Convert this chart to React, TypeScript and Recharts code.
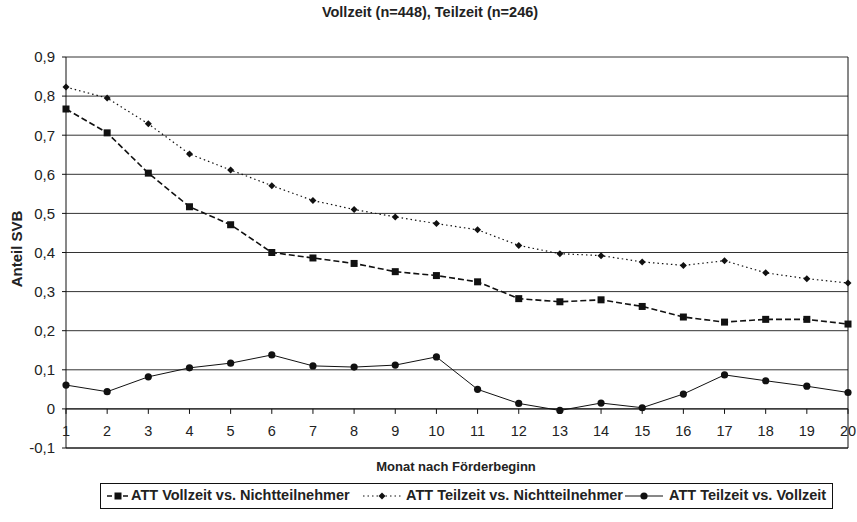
import React from 'react';
import { LineChart, Line, XAxis, YAxis, CartesianGrid, ReferenceLine } from 'recharts';

const months = [1, 2, 3, 4, 5, 6, 7, 8, 9, 10, 11, 12, 13, 14, 15, 16, 17, 18, 19, 20];
const vollzeitVsNicht = [0.767, 0.706, 0.603, 0.517, 0.471, 0.4, 0.386, 0.372, 0.351, 0.341, 0.325, 0.282, 0.274, 0.279, 0.262, 0.235, 0.222, 0.229, 0.229, 0.217];
const teilzeitVsNicht = [0.823, 0.795, 0.729, 0.652, 0.611, 0.571, 0.533, 0.51, 0.491, 0.474, 0.458, 0.418, 0.397, 0.392, 0.376, 0.367, 0.379, 0.348, 0.333, 0.322];
const teilzeitVsVollzeit = [0.061, 0.044, 0.082, 0.105, 0.117, 0.138, 0.11, 0.107, 0.112, 0.133, 0.05, 0.014, -0.004, 0.015, 0.003, 0.038, 0.087, 0.072, 0.058, 0.042];
const yTicks = [-0.1, 0, 0.1, 0.2, 0.3, 0.4, 0.5, 0.6, 0.7, 0.8, 0.9];

const seriesNames = ['ATT Vollzeit vs. Nichtteilnehmer', 'ATT Teilzeit vs. Nichtteilnehmer', 'ATT Teilzeit vs. Vollzeit'];

const data = months.map((m, i) => ({
  month: m,
  voll: vollzeitVsNicht[i],
  teilNicht: teilzeitVsNicht[i],
  teilVoll: teilzeitVsVollzeit[i],
}));

const FONT = '"Liberation Sans", Arial, sans-serif';
const WIDTH = 857;
const HEIGHT = 522;
const PLOT_TOP = 57;
const PLOT_BOTTOM = 448;
// pixels per 0.1 on the y scale, used to lift x labels up to the zero line
const STEP = (PLOT_BOTTOM - PLOT_TOP) / 10;

const SquareDot = (props: any) => {
  const { cx, cy } = props;
  if (cx == null || cy == null) return null;
  return <rect x={cx - 3.5} y={cy - 3.5} width={7} height={7} fill="#111" />;
};

const DiamondDot = (props: any) => {
  const { cx, cy } = props;
  if (cx == null || cy == null) return null;
  return <polygon points={`${cx},${cy - 3.5} ${cx + 3.5},${cy} ${cx},${cy + 3.5} ${cx - 3.5},${cy}`} fill="#111" />;
};

const CircleDot = (props: any) => {
  const { cx, cy } = props;
  if (cx == null || cy == null) return null;
  return <circle cx={cx} cy={cy} r={3.6} fill="#111" />;
};

const MonthTick = (props: any) => {
  const { x, payload } = props;
  const zeroY = PLOT_BOTTOM - STEP;
  return (
    <g>
      <line x1={x} x2={x} y1={zeroY} y2={zeroY + 5} stroke="#111" />
      <text x={x} y={zeroY + 27} textAnchor="middle" fontSize={14.5} fill="#222" fontFamily={FONT}>
        {payload.value}
      </text>
    </g>
  );
};

function LegendIcon({ dash, marker, w }: { dash?: string; marker: 'square' | 'diamond' | 'circle'; w: number }) {
  const c = w / 2;
  return (
    <svg width={w} height={10} style={{ display: 'block' }}>
      <line x1={0} x2={w} y1={5} y2={5} stroke="#111" strokeWidth={marker === 'square' ? 1.5 : 1} strokeDasharray={dash} />
      {marker === 'square' && <rect x={c - 3.5} y={1.5} width={7} height={7} fill="#111" />}
      {marker === 'diamond' && <polygon points={`${c},1.5 ${c + 3.5},5 ${c},8.5 ${c - 3.5},5`} fill="#111" />}
      {marker === 'circle' && <circle cx={c} cy={5} r={3.6} fill="#111" />}
    </svg>
  );
}

const legendItems = [
  { name: seriesNames[0], dash: '5 3', marker: 'square' as const, iconLeft: 6, iconW: 22, textLeft: 30 },
  { name: seriesNames[1], dash: '1.5 3', marker: 'diamond' as const, iconLeft: 262, iconW: 38, textLeft: 305 },
  { name: seriesNames[2], dash: undefined, marker: 'circle' as const, iconLeft: 524, iconW: 38, textLeft: 568 },
];

export default function App() {
  return (
    <div style={{ position: 'absolute', left: 0, top: 0, width: WIDTH, height: HEIGHT, background: '#fff', fontFamily: FONT }}>
      <div style={{ position: 'absolute', top: 4, left: 0, width: 860, textAlign: 'center', fontSize: 14.5, fontWeight: 'bold', color: '#222' }}>
        Vollzeit (n=448), Teilzeit (n=246)
      </div>
      <div
        style={{
          position: 'absolute',
          left: 16,
          top: 249,
          transform: 'translate(-50%, -50%) rotate(-90deg)',
          fontSize: 15,
          fontWeight: 'bold',
          color: '#222',
          whiteSpace: 'nowrap',
        }}
      >
        Anteil SVB
      </div>
      <div style={{ position: 'absolute', top: 459, left: 0, width: 912, textAlign: 'center', fontSize: 13, fontWeight: 'bold', color: '#222' }}>
        Monat nach Förderbeginn
      </div>

      <LineChart width={WIDTH} height={HEIGHT} data={data} margin={{ top: PLOT_TOP, right: 9, left: 16, bottom: 44 }}>
        <CartesianGrid vertical={false} stroke="#333" />
        <XAxis
          dataKey="month"
          type="number"
          domain={[1, 20]}
          ticks={months}
          interval={0}
          height={30}
          axisLine={{ stroke: '#111' }}
          tickLine={false}
          tick={<MonthTick />}
        />
        <YAxis
          domain={[-0.1, 0.9]}
          ticks={yTicks}
          width={50}
          axisLine={{ stroke: '#111' }}
          tickLine={{ stroke: '#111' }}
          tickSize={4}
          tickMargin={7}
          tick={{ fontSize: 15, fill: '#222', fontFamily: FONT }}
          tickFormatter={(v: number) => (Math.round(v * 10) / 10).toString().replace('.', ',')}
        />
        <ReferenceLine y={0} stroke="#111" />
        <ReferenceLine x={20} stroke="#111" />
        <Line
          dataKey="voll"
          name={seriesNames[0]}
          stroke="#111"
          strokeWidth={1.6}
          strokeDasharray="6 3"
          dot={<SquareDot />}
          activeDot={false}
          isAnimationActive={false}
        />
        <Line
          dataKey="teilNicht"
          name={seriesNames[1]}
          stroke="#111"
          strokeWidth={1.2}
          strokeDasharray="1.5 3"
          dot={<DiamondDot />}
          activeDot={false}
          isAnimationActive={false}
        />
        <Line
          dataKey="teilVoll"
          name={seriesNames[2]}
          stroke="#111"
          strokeWidth={1}
          dot={<CircleDot />}
          activeDot={false}
          isAnimationActive={false}
        />
      </LineChart>

      <div
        style={{
          position: 'absolute',
          left: 100,
          top: 483,
          width: 731,
          height: 24,
          border: '1px solid #111',
          fontSize: 14.5,
          fontWeight: 'bold',
          color: '#222',
          whiteSpace: 'nowrap',
        }}
      >
        {legendItems.map((it) => (
          <React.Fragment key={it.name}>
            <div style={{ position: 'absolute', left: it.iconLeft, top: 7 }}>
              <LegendIcon dash={it.dash} marker={it.marker} w={it.iconW} />
            </div>
            <div style={{ position: 'absolute', left: it.textLeft, top: 3, lineHeight: '17px' }}>{it.name}</div>
          </React.Fragment>
        ))}
      </div>
    </div>
  );
}
